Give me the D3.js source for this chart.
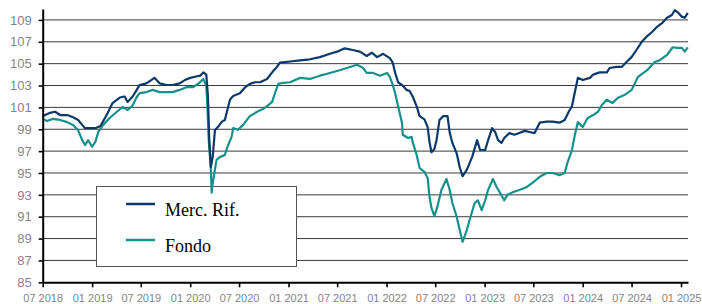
<!DOCTYPE html>
<html>
<head>
<meta charset="utf-8">
<script src="https://cdn.jsdelivr.net/npm/d3@7"></script>
<style>
	body { margin: 0; background: #fff; }
	svg { display: block; }
</style>
</head>
<body>
<svg id="chart" width="702" height="304"></svg>
<script>
var seriesNames = ["Merc. Rif.", "Fondo"];
var seriesColors = ["#0c386a", "#15918b"];

var xTickLabels = ["07 2018", "01 2019", "07 2019", "01 2020", "07 2020", "01 2021", "07 2021",
	"01 2022", "07 2022", "01 2023", "07 2023", "01 2024", "07 2024", "01 2025"];
var yTicks = [85, 87, 89, 91, 93, 95, 97, 99, 101, 103, 105, 107, 109];

var mercDates = [
	"2018-07-01", "2018-07-28", "2018-08-16", "2018-09-04", "2018-09-30", "2018-10-22", "2018-11-10", "2018-11-25",
	"2018-12-06", "2018-12-24", "2019-01-13", "2019-02-01", "2019-02-26", "2019-03-18", "2019-04-14", "2019-05-02",
	"2019-05-13", "2019-06-01", "2019-06-16", "2019-06-27", "2019-07-22", "2019-08-21", "2019-09-09", "2019-10-05",
	"2019-10-27", "2019-11-23", "2019-12-12", "2020-01-01", "2020-01-19", "2020-02-07", "2020-02-19", "2020-03-01",
	"2020-03-07", "2020-03-12", "2020-03-18", "2020-03-25", "2020-04-02", "2020-04-13", "2020-04-28", "2020-05-09",
	"2020-05-28", "2020-06-09", "2020-07-04", "2020-07-22", "2020-08-10", "2020-08-29", "2020-09-17", "2020-10-13",
	"2020-11-04", "2020-11-19", "2020-11-30", "2021-01-07", "2021-02-13", "2021-03-22", "2021-04-28", "2021-06-04",
	"2021-07-01", "2021-07-29", "2021-08-28", "2021-09-24", "2021-10-19", "2021-11-07", "2021-11-27", "2021-12-19",
	"2022-01-13", "2022-01-24", "2022-02-02", "2022-02-13", "2022-03-02", "2022-03-16", "2022-03-28", "2022-04-09",
	"2022-04-23", "2022-05-04", "2022-05-22", "2022-06-03", "2022-06-10", "2022-06-17", "2022-06-28", "2022-07-06",
	"2022-07-17", "2022-07-31", "2022-08-16", "2022-08-24", "2022-09-03", "2022-09-19", "2022-09-30", "2022-10-11",
	"2022-10-27", "2022-11-16", "2022-12-04", "2022-12-15", "2023-01-03", "2023-01-14", "2023-01-29", "2023-02-09",
	"2023-02-20", "2023-03-05", "2023-03-15", "2023-04-03", "2023-04-22", "2023-05-10", "2023-05-30", "2023-06-17",
	"2023-07-06", "2023-07-25", "2023-08-20", "2023-09-11", "2023-10-07", "2023-10-26", "2023-11-10", "2023-11-22",
	"2023-12-03", "2023-12-14", "2024-01-01", "2024-01-28", "2024-02-09", "2024-03-04", "2024-03-31", "2024-04-10",
	"2024-05-06", "2024-05-25", "2024-06-12", "2024-07-01", "2024-07-19", "2024-08-08", "2024-08-25", "2024-09-15",
	"2024-10-03", "2024-10-22", "2024-11-10", "2024-11-28", "2024-12-09", "2024-12-20", "2025-01-04", "2025-01-15",
	"2025-01-26"];
var mercValues = [
	100.2, 100.5, 100.6, 100.3, 100.3, 100.1, 99.85, 99.4,
	99.1, 99.1, 99.1, 99.3, 100.4, 101.4, 101.9, 102.0,
	101.5, 102.0, 102.6, 103.05, 103.2, 103.7, 103.2, 103.05,
	103.05, 103.2, 103.5, 103.7, 103.8, 103.9, 104.2, 104.0,
	102.05, 98.0, 95.55, 96.5, 98.9, 99.2, 99.7, 99.85,
	101.7, 102.05, 102.3, 102.8, 103.15, 103.3, 103.3, 103.6,
	104.3, 104.7, 105.1, 105.2, 105.3, 105.4, 105.6, 105.9,
	106.1, 106.4, 106.25, 106.1, 105.7, 106.0, 105.6, 105.9,
	105.5, 105.1, 104.15, 103.3, 103.0, 102.6, 102.5, 101.95,
	101.1, 100.2, 99.9, 99.2, 97.8, 96.9, 97.2, 98.0,
	99.85, 100.2, 100.2, 98.7, 97.75, 96.8, 95.55, 94.7,
	95.3, 96.5, 98.0, 97.1, 97.1, 98.0, 99.1, 98.75,
	98.0, 97.75, 98.2, 98.65, 98.5, 98.65, 98.85, 98.75,
	98.65, 99.6, 99.7, 99.7, 99.6, 99.85, 100.6, 101.1,
	102.4, 103.7, 103.5, 103.7, 104.0, 104.2, 104.2, 104.6,
	104.7, 104.7, 105.15, 105.6, 106.25, 107.0, 107.45, 107.9,
	108.35, 108.7, 109.2, 109.45, 109.9, 109.7, 109.3, 109.2,
	109.65];

var fondoDates = [
	"2018-07-01", "2018-07-17", "2018-08-08", "2018-09-04", "2018-09-30", "2018-10-22", "2018-11-10", "2018-11-25",
	"2018-12-06", "2018-12-17", "2019-01-01", "2019-01-13", "2019-01-24", "2019-02-11", "2019-03-08", "2019-04-03",
	"2019-04-25", "2019-05-13", "2019-06-01", "2019-06-16", "2019-06-27", "2019-07-22", "2019-08-15", "2019-09-09",
	"2019-10-05", "2019-10-27", "2019-11-23", "2019-12-18", "2020-01-12", "2020-02-07", "2020-02-19", "2020-03-01",
	"2020-03-05", "2020-03-10", "2020-03-18", "2020-03-21", "2020-03-25", "2020-04-02", "2020-04-08", "2020-04-20",
	"2020-05-09", "2020-05-19", "2020-06-03", "2020-06-09", "2020-06-27", "2020-07-16", "2020-08-10", "2020-09-06",
	"2020-09-28", "2020-10-18", "2020-11-01", "2020-11-13", "2020-11-24", "2020-12-13", "2021-01-07", "2021-02-13",
	"2021-03-22", "2021-04-28", "2021-06-04", "2021-07-10", "2021-08-18", "2021-09-13", "2021-10-06", "2021-10-19",
	"2021-11-12", "2021-12-07", "2022-01-03", "2022-01-13", "2022-01-24", "2022-02-02", "2022-02-13", "2022-02-28",
	"2022-03-02", "2022-03-22", "2022-04-04", "2022-04-09", "2022-04-23", "2022-05-04", "2022-05-22", "2022-06-03",
	"2022-06-10", "2022-06-17", "2022-06-28", "2022-07-09", "2022-07-24", "2022-08-12", "2022-08-24", "2022-09-03",
	"2022-09-19", "2022-09-30", "2022-10-11", "2022-10-27", "2022-11-06", "2022-11-25", "2022-12-07", "2022-12-21",
	"2023-01-03", "2023-01-14", "2023-02-01", "2023-02-15", "2023-02-27", "2023-03-15", "2023-03-27", "2023-04-16",
	"2023-05-10", "2023-06-06", "2023-06-28", "2023-07-25", "2023-08-20", "2023-09-11", "2023-10-07", "2023-10-26",
	"2023-11-06", "2023-11-22", "2023-12-03", "2023-12-14", "2024-01-01", "2024-01-19", "2024-02-09", "2024-02-27",
	"2024-03-12", "2024-03-30", "2024-04-21", "2024-05-10", "2024-06-06", "2024-07-01", "2024-07-25", "2024-08-28",
	"2024-09-25", "2024-10-13", "2024-11-10", "2024-12-01", "2024-12-16", "2025-01-04", "2025-01-15", "2025-01-26"];
var fondoValues = [
	99.95, 99.75, 99.95, 99.85, 99.65, 99.4, 98.9, 98.0,
	97.55, 98.0, 97.4, 97.85, 98.75, 99.4, 100.05, 100.6,
	101.05, 100.75, 101.2, 101.95, 102.3, 102.4, 102.6, 102.4,
	102.4, 102.4, 102.6, 102.85, 102.85, 103.3, 103.6, 102.95,
	101.2, 98.0, 95.3, 93.2, 94.1, 95.3, 96.2, 96.45,
	96.65, 97.4, 98.3, 99.1, 98.95, 99.4, 100.2, 100.6,
	100.85, 101.2, 101.5, 102.4, 103.15, 103.25, 103.3, 103.7,
	103.6, 103.9, 104.15, 104.4, 104.7, 104.9, 104.6, 104.15,
	104.15, 103.9, 104.15, 103.8, 103.05, 102.3, 101.1, 99.5,
	98.5, 98.2, 98.3, 97.75, 96.65, 95.45, 95.1, 94.55,
	92.8, 91.8, 91.05, 91.9, 93.45, 94.45, 93.45, 92.25,
	91.0, 89.8, 88.7, 89.8, 90.7, 92.25, 92.5, 91.6,
	92.5, 93.45, 94.45, 93.7, 93.2, 92.5, 93.0, 93.25,
	93.45, 93.7, 94.1, 94.65, 95.0, 95.0, 94.8, 95.0,
	96.0, 97.1, 98.5, 99.65, 99.2, 100.0, 100.3, 100.6,
	101.2, 101.7, 101.4, 101.85, 102.15, 102.6, 103.8, 104.4,
	105.15, 105.3, 105.8, 106.5, 106.45, 106.45, 106.1, 106.5];

var parseDate = d3.timeParse("%Y-%m-%d");
var parseTick = d3.timeParse("%m %Y");

var series = [
	{ name: seriesNames[0], color: seriesColors[0],
		data: mercDates.map(function(d, i){ return { date: parseDate(d), value: mercValues[i] }; }) },
	{ name: seriesNames[1], color: seriesColors[1],
		data: fondoDates.map(function(d, i){ return { date: parseDate(d), value: fondoValues[i] }; }) }
];

var svg = d3.select("#chart");
var plotLeft = 42.7, plotRight = 688, plotTop = 9, plotBottom = 282.3;

var x = d3.scaleTime()
	.domain([parseDate("2018-07-01"), parseDate("2025-01-27")])
	.range([plotLeft, plotRight]);

var y = d3.scaleLinear()
	.domain([85, 110])
	.range([plotBottom, plotTop]);

// horizontal grid
svg.append("g")
	.selectAll("line")
	.data(yTicks.slice(1))
	.enter().append("line")
	.attr("x1", plotLeft)
	.attr("x2", plotRight)
	.attr("y1", function(d){ return y(d); })
	.attr("y2", function(d){ return y(d); })
	.attr("stroke", "#3a3a3a")
	.attr("stroke-width", 1);

// legend (lines are drawn over it)
var legend = svg.append("g");
legend.append("rect")
	.attr("x", 96.5).attr("y", 186.5)
	.attr("width", 200).attr("height", 80)
	.attr("fill", "#fff")
	.attr("stroke", "#555")
	.attr("stroke-width", 1);

var legendItem = legend.selectAll(".item")
	.data(series)
	.enter().append("g")
	.attr("class", "item")
	.attr("transform", function(d, i){ return "translate(0," + (204 + i * 36) + ")"; });

legendItem.append("line")
	.attr("x1", 126).attr("x2", 155)
	.attr("y1", 0).attr("y2", 0)
	.attr("stroke", function(d){ return d.color; })
	.attr("stroke-width", 2.5);

legendItem.append("text")
	.attr("x", 165)
	.attr("y", 11.5)
	.attr("font-family", "'Liberation Serif', 'DejaVu Serif', serif")
	.attr("font-size", "18px")
	.attr("fill", "#000")
	.text(function(d){ return d.name; });

// series lines
var line = d3.line()
	.x(function(d){ return x(d.date); })
	.y(function(d){ return y(d.value); });

svg.append("g")
	.selectAll("path")
	.data(series.slice().reverse())
	.enter().append("path")
	.attr("fill", "none")
	.attr("stroke", function(d){ return d.color; })
	.attr("stroke-width", 2.2)
	.attr("stroke-linejoin", "round")
	.attr("d", function(d){ return line(d.data); });

// axes
var yAxis = svg.append("g")
	.attr("transform", "translate(" + plotLeft + ",0)")
	.call(d3.axisLeft(y).tickValues(yTicks).tickSize(4).tickSizeOuter(0).tickPadding(7));

var xAxis = svg.append("g")
	.attr("transform", "translate(0," + plotBottom + ")")
	.call(d3.axisBottom(x)
		.tickValues(xTickLabels.map(function(t){ return parseTick(t); }))
		.tickFormat(d3.timeFormat("%m %Y"))
		.tickSize(5).tickSizeOuter(0).tickPadding(7));

[yAxis, xAxis].forEach(function(ax){
	ax.select(".domain").attr("stroke", "#000").attr("stroke-width", 2);
	ax.selectAll(".tick line").attr("stroke", "#000").attr("stroke-width", 1.6);
	ax.selectAll(".tick text")
		.attr("fill", "#858585")
		.attr("font-family", "'Liberation Sans', Arial, sans-serif");
});
yAxis.selectAll(".tick text").attr("font-size", "13px");
xAxis.selectAll(".tick text").attr("font-size", "11px");
</script>
</body>
</html>
